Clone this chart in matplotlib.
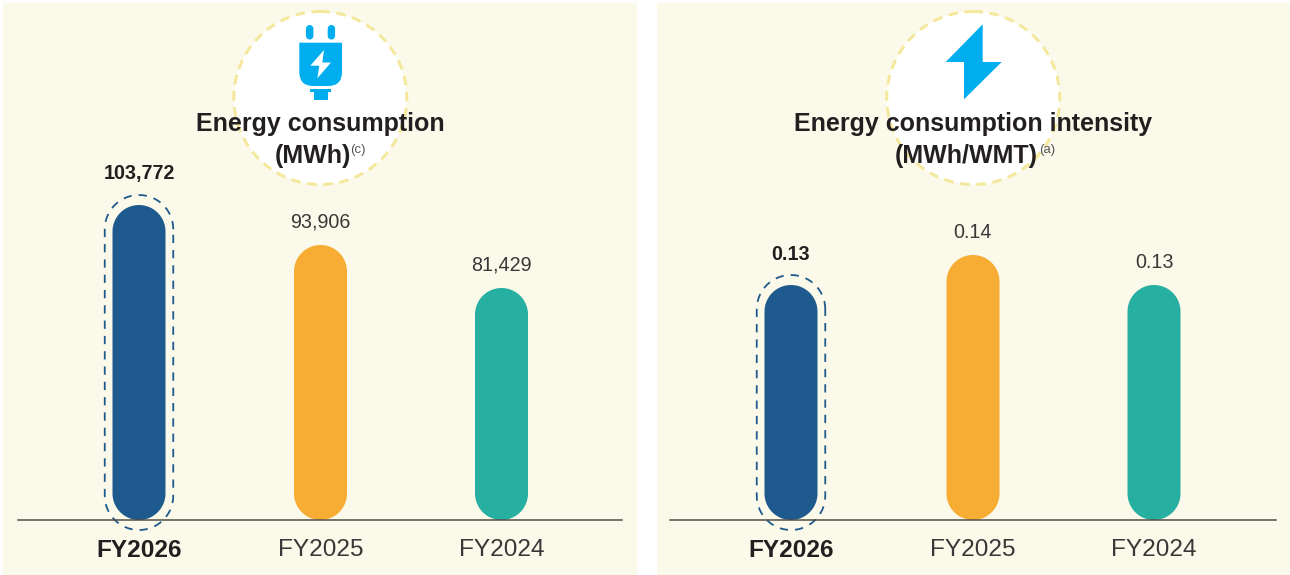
import numpy as np
import matplotlib
matplotlib.use("Agg")
import matplotlib.pyplot as plt
from matplotlib.patches import Rectangle, Circle, Polygon, PathPatch
from matplotlib.path import Path

plt.rcParams['font.family'] = ['Liberation Sans', 'DejaVu Sans']

W, H = 1290, 575
DPI = 100

NAVY = '#1F5A8E'
ORANGE = '#F7AD33'
TEAL = '#27AFA2'
PANEL = '#FBF9E9'
DASH = '#F4E89C'
ICON = '#00AEEF'
INK = '#231F20'
SOFT = '#3A3738'

years = ['FY2026', 'FY2025', 'FY2024']
colors = [NAVY, ORANGE, TEAL]

energy_labels = ['103,772', '93,906', '81,429']
# heights as drawn in the picture, the axis is not zero based
energy_heights = [315, 275, 232]

intensity_labels = ['0.13', '0.14', '0.13']
intensity_heights = [235, 265, 235]

fig = plt.figure(figsize=(W / DPI, H / DPI), dpi=DPI, facecolor='white')


def px(v):
    return v * 72 / DPI


def pill(cx, y0, y1, w):
    # stadium with true half circles, fancybox corners come out too square
    r = w / 2
    t = np.linspace(0, np.pi, 40)
    top = np.column_stack([cx + r * np.cos(t), y1 - r + r * np.sin(t)])
    bot = np.column_stack([cx - r * np.cos(t), y0 + r - r * np.sin(t)])
    pts = np.vstack([top, bot, top[:1]])
    return Path(pts, closed=True)


# backdrop in picture pixels
bg = fig.add_axes([0, 0, 1, 1], zorder=0)
bg.set_xlim(0, W)
bg.set_ylim(H, 0)
bg.axis('off')


def panel(x0, x1, cx):
    bg.add_patch(Rectangle((x0, 3), x1 - x0, H - 3, fc=PANEL, ec='none'))
    bg.add_patch(Circle((cx, 98), 86.5, fc='white', ec=DASH, lw=px(3), ls=(0, (3.2, 2.2))))


panel(3, 637, 320.3)
panel(657, 1290, 973.3)

# plug icon
for cx in (309.7, 331.4):
    bg.add_patch(PathPatch(pill(cx, 25, 39.5, 7.4), fc=ICON, ec='none'))
plug = Path(
    [(299.3, 42.7), (342, 42.7), (342, 72), (342, 86), (328, 86), (313.3, 86), (299.3, 86), (299.3, 72), (299.3, 42.7)],
    [Path.MOVETO, Path.LINETO, Path.LINETO, Path.CURVE3, Path.CURVE3, Path.LINETO, Path.CURVE3, Path.CURVE3, Path.CLOSEPOLY],
)
bg.add_patch(PathPatch(plug, fc=ICON, ec='none'))
bg.add_patch(Polygon([(324, 50), (310.3, 65.7), (319.3, 65.7), (317.3, 78.3), (331, 62.5), (322.3, 62.5)], fc='white', ec='none'))
bg.add_patch(Polygon([(310.3, 89), (331, 89), (331, 92.3), (328, 92.3), (328, 99.7), (313.7, 99.7), (313.7, 92.3), (310.3, 92.3)], fc=ICON, ec='none'))
# bolt icon
bg.add_patch(Polygon([(982.7, 24.3), (945.7, 62), (964, 62), (964, 99.3), (1001.7, 62), (982.7, 62)], fc=ICON, ec='none'))


def bar_panel(left, right, centers, heights, labels):
    base = 520
    ax = fig.add_axes([left / W, (H - base) / H, (right - left) / W, (base - 3) / H], zorder=1)
    ax.patch.set_alpha(0)
    ax.set_xlim(0, right - left)
    ax.set_ylim(0, base - 3)
    for s in ('top', 'left', 'right'):
        ax.spines[s].set_visible(False)
    ax.spines['bottom'].set_color('#4D4A42')
    ax.spines['bottom'].set_linewidth(px(1.5))
    ax.set_yticks([])
    ax.set_xticks(centers)
    ax.set_xticklabels(years, fontsize=17.6, color=SOFT)
    ax.tick_params(axis='x', length=0, pad=13.5)
    ax.get_xticklabels()[0].set_fontweight('bold')
    ax.get_xticklabels()[0].set_color(INK)

    for i, (c, h, lab) in enumerate(zip(centers, heights, labels)):
        ax.add_patch(PathPatch(pill(c, 0, h, 53), fc=colors[i], ec='none', zorder=2))
        ax.text(c, h + (31 if i == 0 else 23), lab, ha='center', va='center', fontsize=14.2,
                color=INK if i == 0 else SOFT, fontweight='bold' if i == 0 else 'normal', zorder=3)
    # dashed outline on the current year
    ax.add_patch(PathPatch(pill(centers[0], -10, heights[0] + 10, 68.5), fc='none', ec=NAVY,
                           lw=px(1.8), ls=(0, (4.6, 3.9)), clip_on=False, zorder=2))
    return ax


bar_panel(18, 622, [121, 302.5, 483.5], energy_heights, energy_labels)
bar_panel(670, 1276, [121, 303, 484], intensity_heights, intensity_labels)


def title(x, y, s):
    fig.text(x / W, 1 - y / H, s, ha='center', va='center', fontsize=18, fontweight='bold', color=INK, zorder=5)


def note(x, y, s):
    fig.text(x / W, 1 - y / H, s, ha='left', va='center', fontsize=9.5, color='#555555', zorder=5)


title(320.5, 124, 'Energy consumption')
title(312.5, 156.5, '(MWh)')
note(350.5, 149.5, '(c)')
title(973.5, 124, 'Energy consumption intensity')
title(966, 156.5, '(MWh/WMT)')
note(1039, 149.5, '(a)')

fig.savefig('out.png', dpi=DPI, facecolor='white')
